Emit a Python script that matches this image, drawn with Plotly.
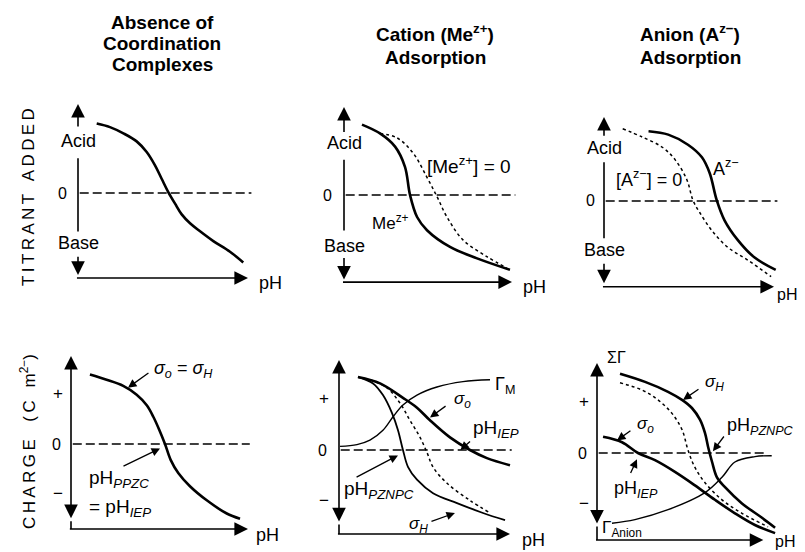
import plotly.graph_objects as go

W, H = 805, 552
OFF = 8  # page body margin of the browser
Wf, Hf = W - OFF, H - OFF

# ---------------- data (schematic curves; x = pH scale 0-10, y = relative amount) -------------
# Panel 1: titration, no coordination complexes
p1_x = [1.10, 1.88, 2.67, 3.45, 4.04, 4.53, 4.92, 5.31, 5.71, 6.10, 6.59, 7.18, 7.96, 8.94, 9.72]
p1_y = [0.78, 0.74, 0.67, 0.58, 0.46, 0.31, 0.16, 0.01, -0.12, -0.24, -0.34, -0.43, -0.54, -0.66, -0.78]

# Panel 2: titration, cation adsorption
p2_me_x = [1.07, 2.14, 3.04, 3.63, 3.93, 4.35, 4.94, 6.31, 7.92, 9.88]
p2_me_y = [0.80, 0.70, 0.55, 0.32, 0.0, -0.25, -0.40, -0.59, -0.72, -0.85]
p2_zero_x = [2.14, 3.15, 4.1, 4.94, 5.54, 6.13, 7.08, 8.5, 9.7]
p2_zero_y = [0.70, 0.65, 0.48, 0.20, -0.02, -0.25, -0.51, -0.70, -0.83]

# Panel 3: titration, anion adsorption
p3_a_x = [2.62, 3.78, 4.94, 5.76, 6.22, 6.63, 7.09, 7.85, 8.84, 10.1]
p3_a_y = [0.83, 0.79, 0.67, 0.52, 0.33, 0.01, -0.23, -0.46, -0.67, -0.82]
p3_zero_x = [1.10, 2.27, 3.43, 4.19, 4.88, 5.23, 5.64, 6.34, 7.27, 8.43, 9.83]
p3_zero_y = [0.86, 0.76, 0.64, 0.49, 0.25, 0.01, -0.14, -0.35, -0.55, -0.70, -0.90]

# Panel 4: charge, no coordination complexes
p4_x = [1.07, 2.01, 2.95, 3.71, 4.28, 4.65, 4.99, 5.31, 5.63, 6.06, 6.72, 7.67, 8.80, 9.55]
p4_y = [0.79, 0.73, 0.66, 0.56, 0.44, 0.31, 0.16, 0.0, -0.18, -0.33, -0.48, -0.64, -0.79, -0.85]

# Panel 5: charge, cation adsorption
p5_sh_x = [1.11, 1.99, 2.57, 3.10, 3.45, 3.74, 4.04, 4.56, 5.50, 6.90, 8.42, 9.71]
p5_sh_y = [0.81, 0.74, 0.61, 0.41, 0.22, 0.0, -0.19, -0.33, -0.48, -0.59, -0.70, -0.78]
p5_so_x = [1.11, 2.40, 3.74, 4.56, 5.32, 6.49, 7.66, 8.65, 10.0]
p5_so_y = [0.81, 0.74, 0.58, 0.47, 0.33, 0.14, 0.0, -0.09, -0.17]
p5_dot_x = [1.81, 2.81, 3.57, 4.15, 4.74, 5.15, 5.50, 6.32, 7.66, 8.83]
p5_dot_y = [0.78, 0.69, 0.52, 0.33, 0.14, -0.03, -0.19, -0.37, -0.56, -0.70]
p5_gm_x = [0.06, 1.05, 1.81, 2.57, 3.16, 3.74, 4.56, 5.73, 7.25, 8.83]
p5_gm_y = [0.04, 0.06, 0.11, 0.22, 0.37, 0.50, 0.61, 0.70, 0.76, 0.78]

# Panel 6: charge, anion adsorption
p6_sh_x = [1.37, 2.86, 4.23, 5.06, 5.65, 6.13, 6.43, 6.61, 6.85, 7.14, 7.62, 8.63, 9.82, 10.6]
p6_sh_y = [0.88, 0.79, 0.68, 0.59, 0.50, 0.37, 0.22, 0.07, -0.10, -0.27, -0.38, -0.56, -0.72, -0.83]
p6_dot_x = [1.37, 2.68, 3.63, 4.46, 5.06, 5.42, 5.83, 6.43, 7.44, 8.63, 10.18]
p6_dot_y = [0.78, 0.70, 0.59, 0.44, 0.26, 0.03, -0.16, -0.33, -0.52, -0.67, -0.82]
p6_so_x = [0.36, 1.49, 2.44, 3.45, 4.64, 5.83, 7.02, 8.21, 9.40, 10.6]
p6_so_y = [0.18, 0.12, 0.0, -0.08, -0.21, -0.36, -0.52, -0.67, -0.80, -0.89]
p6_ga_x = [0.89, 2.26, 4.23, 6.43, 7.44, 8.21, 9.40, 10.4]
p6_ga_y = [-0.78, -0.74, -0.63, -0.44, -0.27, -0.10, -0.04, -0.03]

col_titles = [["Absence of", "Coordination", "Complexes"],
              ["Cation (Me<sup>z+</sup>)", "Adsorption"],
              ["Anion (A<sup>z−</sup>)", "Adsorption"]]
TS = "\u2009"
row_titles = [TS.join("TITRANT") + "  " + TS + TS.join("ADDED"),
              TS.join("CHARGE") + "   " + TS + TS.join("(C") + "  " + TS + "m<sup>2−</sup>)"]

# ---------------- layout geometry (screen pixels) -------------
# x0: pixel of pH origin, ux: px per pH unit, y0: pixel of zero line, uy: px per unit
geo = {
    1: dict(x0=78, ux=17.0, y0=193, uy=89, ybot=-0.955, xend=10.0),
    2: dict(x0=344, ux=16.8, y0=195, uy=88, ybot=-0.99, xend=10.0),
    3: dict(x0=604, ux=17.0, y0=201, uy=84, ybot=-1.02, xend=10.0),
    4: dict(x0=71, ux=17.7, y0=444, uy=88, ybot=-0.966, xend=10.0),
    5: dict(x0=339, ux=17.1, y0=450, uy=90, ybot=-0.933, xend=10.0),
    6: dict(x0=597, ux=16.8, y0=453, uy=90, ybot=-0.967, xend=9.9),
}
# where the "pH" axis word sits (screen px of its left edge, centre y)
ph_pos = {1: (257, 283), 2: (521, 287), 3: (775, 294), 4: (254, 535), 5: (520, 540), 6: (773, 541)}

FONT = "Liberation Sans, Arial, Helvetica, sans-serif"
fig = go.Figure()
layout = dict(width=Wf, height=Hf, margin=dict(l=0, r=0, t=0, b=0),
              paper_bgcolor="white", plot_bgcolor="rgba(0,0,0,0)", showlegend=False,
              font=dict(family=FONT, color="black", size=15))


def ax_names(p):
    return ("x", "y") if p == 1 else (f"x{p}", f"y{p}")


def px2paper_x(px):
    return (px - OFF) / Wf


def px2paper_y(py):
    return 1 - (py - OFF) / Hf


for p, g in geo.items():
    xa = max(OFF, g["x0"] - 50)
    xb = min(W, g["x0"] + 200)
    ya = max(OFF, g["y0"] - 100)
    yb = min(H, g["y0"] + 100)
    xn, yn = ax_names(p)
    key_x = "xaxis" if p == 1 else f"xaxis{p}"
    key_y = "yaxis" if p == 1 else f"yaxis{p}"
    layout[key_x] = dict(domain=[px2paper_x(xa), px2paper_x(xb)],
                         range=[(xa - g["x0"]) / g["ux"], (xb - g["x0"]) / g["ux"]],
                         visible=False, anchor=yn, fixedrange=True)
    layout[key_y] = dict(domain=[px2paper_y(yb), px2paper_y(ya)],
                         range=[(g["y0"] - yb) / g["uy"], (g["y0"] - ya) / g["uy"]],
                         visible=False, anchor=xn, fixedrange=True)

fig.update_layout(**layout)

THICK, THIN = 2.6, 1.4


def curve(p, xs, ys, width=THICK, dash="solid"):
    xn, yn = ax_names(p)
    fig.add_trace(go.Scatter(x=xs, y=ys, mode="lines", xaxis=xn, yaxis=yn,
                             line=dict(color="black", width=width, dash=dash, shape="spline", smoothing=1.0),
                             hoverinfo="skip"))


def zero_line(p, x_end):
    xn, yn = ax_names(p)
    fig.add_trace(go.Scatter(x=[0.1, x_end], y=[0, 0], mode="lines", xaxis=xn, yaxis=yn,
                             line=dict(color="black", width=1.3, dash="9px,4px"), hoverinfo="skip"))


anns = []


def arrow(p, x, y, ax, ay, width=1.5, size=1.3, head=2, side="end"):
    xn, yn = ax_names(p)
    anns.append(dict(xref=xn, yref=yn, axref=xn, ayref=yn, x=x, y=y, ax=ax, ay=ay, text="",
                     showarrow=True, arrowhead=head, arrowwidth=width, arrowsize=size,
                     arrowcolor="black", arrowside=side, standoff=0, startstandoff=0))


def label(p, x, y, text, size=15, xanchor="center", yanchor="middle"):
    xn, yn = ax_names(p)
    anns.append(dict(xref=xn, yref=yn, x=x, y=y, text=text, showarrow=False,
                     xanchor=xanchor, yanchor=yanchor, font=dict(size=size, family=FONT, color="black")))


def paper_label(px, py, text, size, xanchor="center", angle=0):
    anns.append(dict(xref="paper", yref="paper", x=px2paper_x(px), y=px2paper_y(py), text=text,
                     showarrow=False, xanchor=xanchor, yanchor="middle", textangle=angle,
                     font=dict(size=size, family=FONT, color="black")))


AX_W, AX_S = 1.6, 1.7

# ---------------- top row: titration axes -------------
top_axes = {
    1: dict(tail=0.73, acid=0.58, l0=0.39, l1=-0.45, base=-0.56, d0=-0.70, d1=-0.92, lx=-0.94),
    2: dict(tail=0.70, acid=0.59, l0=0.40, l1=-0.42, base=-0.58, d0=-0.70, d1=-0.96, lx=-1.0),
    3: dict(tail=0.76, acid=0.63, l0=0.46, l1=-0.46, base=-0.58, d0=-0.73, d1=-0.98, lx=-0.8),
}
for p, t in top_axes.items():
    g = geo[p]
    arrow(p, 0, 1.0, 0, t["tail"], width=AX_W, size=AX_S)
    arrow(p, 0, t["l0"], 0, t["l1"], head=0, width=AX_W)
    arrow(p, 0, t["d1"], 0, t["d0"], width=AX_W, size=AX_S)
    arrow(p, g["xend"], g["ybot"], -0.15, g["ybot"], width=AX_W, size=AX_S)
    label(p, 0, t["acid"], "Acid", size=18)
    label(p, 0, t["base"], "Base", size=18)
    label(p, t["lx"], 0, "0", size=16)
    zero_line(p, 10.2)

curve(1, p1_x, p1_y)
curve(2, p2_me_x, p2_me_y)
curve(2, p2_zero_x, p2_zero_y, width=1.5, dash="dot")
curve(3, p3_a_x, p3_a_y)
curve(3, p3_zero_x, p3_zero_y, width=1.5, dash="dot")

label(2, 4.8, 0.34, "[Me<sup>z+</sup>] = 0", size=19, xanchor="left")
label(2, 1.55, -0.31, "Me<sup>z+</sup>", size=17, xanchor="left")
label(3, 0.6, 0.27, "[A<sup>z−</sup>] = 0", size=18, xanchor="left")
label(3, 6.3, 0.40, "A<sup>z−</sup>", size=18, xanchor="left")

# ---------------- bottom row: charge axes -------------
bot_axes = {
    4: dict(bot=-0.86, px=-0.73),
    5: dict(bot=-0.81, px=-0.85),
    6: dict(bot=-0.80, px=-0.78),
}
for p, b in bot_axes.items():
    g = geo[p]
    arrow(p, 0, 1.0, 0, b["bot"], side="end+start", width=AX_W, size=AX_S)
    arrow(p, 0, g["ybot"], 0, b["bot"], head=0, width=AX_W)
    arrow(p, g["xend"], g["ybot"], -0.15, g["ybot"], width=AX_W, size=AX_S)
    label(p, b["px"], 0.57, "+", size=17)
    label(p, b["px"] - 0.1, 0, "0", size=16)
    label(p, b["px"], -0.56, "−", size=17)
    zero_line(p, 10.1)

for p, (px, py) in ph_pos.items():
    paper_label(px, py, "pH", 18 if p not in (3, 6) else 16, xanchor="left")

curve(4, p4_x, p4_y)
curve(5, p5_sh_x, p5_sh_y, width=1.8)
curve(5, p5_so_x, p5_so_y)
curve(5, p5_dot_x, p5_dot_y, width=1.5, dash="dot")
curve(5, p5_gm_x, p5_gm_y, width=THIN)
curve(6, p6_sh_x, p6_sh_y)
curve(6, p6_dot_x, p6_dot_y, width=1.5, dash="dot")
curve(6, p6_so_x, p6_so_y)
curve(6, p6_ga_x, p6_ga_y, width=THIN)

SIG_O = "<i>σ<sub>o</sub></i>"
SIG_H = "<i>σ<sub>H</sub></i>"


def phsub(s):
    return f"pH<sub><i>{s}</i></sub>"


# panel 4 labels
label(4, 4.6, 0.85, f"{SIG_O} = {SIG_H}", size=18, xanchor="left")
arrow(4, 3.22, 0.64, 4.46, 0.82, width=1.3)
label(4, 0.9, -0.40, phsub("PPZC"), size=19, xanchor="left")
label(4, 0.9, -0.73, "= " + phsub("IEP"), size=19, xanchor="left")
arrow(4, 5.03, -0.05, 2.88, -0.26, width=1.3)

# panel 5 labels
label(5, 9.0, 0.72, "Γ<sub>M</sub>", size=18, xanchor="left")
label(5, 6.6, 0.56, SIG_O, size=17, xanchor="left")
arrow(5, 5.32, 0.36, 6.32, 0.50, width=1.3)
label(5, 7.7, 0.23, phsub("IEP"), size=19, xanchor="left")
arrow(5, 7.1, 0.0, 7.75, 0.11, width=1.3)
label(5, 0.2, -0.44, phsub("PZNPC"), size=19, xanchor="left")
arrow(5, 3.45, -0.06, 0.94, -0.31, width=1.3)
label(5, 4.0, -0.83, SIG_H, size=17, xanchor="left")
arrow(5, 6.78, -0.70, 5.32, -0.80, width=1.3)

# panel 6 labels
label(6, 0.45, 1.06, "ΣΓ", size=16, xanchor="left")
label(6, 6.3, 0.78, SIG_H, size=17, xanchor="left")
arrow(6, 5.12, 0.59, 6.13, 0.72, width=1.3)
label(6, 2.26, 0.31, SIG_O, size=17, xanchor="left")
arrow(6, 1.19, 0.14, 2.08, 0.26, width=1.3)
label(6, 7.6, 0.30, phsub("PZNPC"), size=18, xanchor="left")
arrow(6, 6.9, 0.02, 7.62, 0.20, width=1.3)
label(6, 0.9, -0.41, phsub("IEP"), size=18, xanchor="left")
arrow(6, 2.38, -0.07, 1.96, -0.24, width=1.3)
label(6, 0.2, -0.84, "Γ<sub>Anion</sub>", size=17, xanchor="left")

# ---------------- titles -------------
title_lines_y = [[22, 43, 65], [33, 57], [33, 57]]
title_x = [162, 435, 690]
for lines, ys, px in zip(col_titles, title_lines_y, title_x):
    for txt, py in zip(lines, ys):
        paper_label(px, py, f"<b>{txt}</b>", 19)
for txt, py in zip(row_titles, [197, 442]):
    paper_label(28, py, txt, 17, angle=-90)

fig.update_layout(annotations=anns)
fig.write_html("out.html")
